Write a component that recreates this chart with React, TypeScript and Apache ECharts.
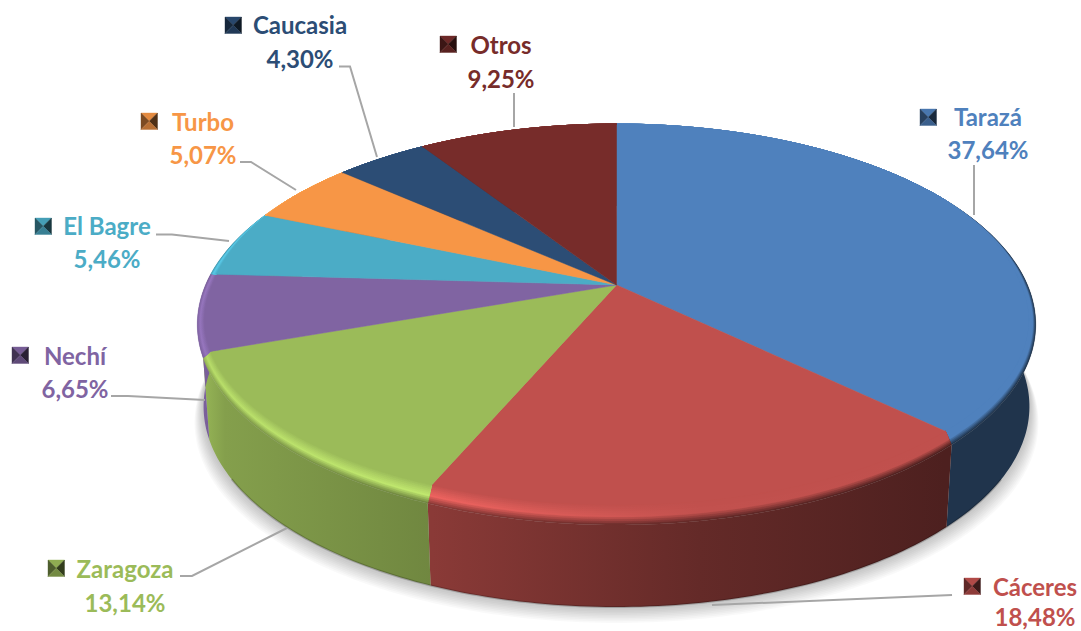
import React, { useEffect, useRef } from "react";
import * as echarts from "echarts";

// ---- data (clockwise from 12 o'clock) ----
const names = ["Tarazá", "Cáceres", "Zaragoza", "Nechí", "El Bagre", "Turbo", "Caucasia", "Otros"];
const values = [37.64, 18.48, 13.14, 6.65, 5.46, 5.07, 4.3, 9.25];
const colors = ["#4f81bd", "#c0504d", "#9bbb59", "#8064a2", "#4bacc6", "#f79646", "#2c4d75", "#772c2a"];

// ---- label layout, in page pixels ----
const labelCenterX = [988, 1035, 125, 75, 107, 203, 300, 501];
const nameBaseline = [125, 595, 577, 364, 234, 130, 33, 53];
const valueBaseline = [158, 624.5, 611, 397, 267, 163, 67, 87];
const keyCorner: number[][] = [[920, 109], [964, 578], [48, 560], [12, 347], [35, 218], [141, 113], [225, 17], [440, 36]];
const leaders: number[][][] = [
  [[974, 165], [974, 215]],
  [[952, 595], [712, 605]],
  [[180, 576], [192, 576], [287, 528]],
  [[111, 396], [128, 396], [205, 400]],
  [[156, 234.5], [172, 234.5], [229, 241]],
  [[240, 162], [251, 162], [296, 190]],
  [[339, 66.5], [350, 66.5], [377, 157]],
  [[514, 93], [514, 127]],
];

// ---- perspective disc geometry ----
const CX = 616.5, CY = 285, B = 411, A = 192.7, K = -0.197;
const WALL_H = 82, WALL_SCALE = 0.985, BEVEL_D = 15, BEVEL_R = 0.016, BANDS = 10;

const total = values.reduce((a, b) => a + b, 0);
const angleAt = (i: number) => (values.slice(0, i).reduce((a, b) => a + b, 0) / total) * Math.PI * 2;

const project = (r: number, th: number) => {
  const u = r * Math.sin(th), v = -r * Math.cos(th), w = 1 + K * v;
  return [CX + (B * u) / w, CY + (A * v) / w];
};
const arc = (a0: number, a1: number, f: (th: number) => number[]) => {
  const n = Math.max(2, Math.ceil((a1 - a0) / (Math.PI / 180)));
  const out: number[][] = [];
  for (let i = 0; i <= n; i++) out.push(f(a0 + ((a1 - a0) * i) / n));
  return out;
};

const rgb = (h: string) => [1, 3, 5].map((i) => parseInt(h.slice(i, i + 2), 16));
const css = (c: number[]) => `rgb(${c.map((x) => Math.max(0, Math.min(255, Math.round(x)))).join(",")})`;
const mul = (c: number[], f: number) => c.map((x) => x * f);
const lerp = (a: number[], b: number[], t: number) => a.map((x, i) => x + (b[i] - x) * t);

const stopX = [197, 225, 432, 700, 945, 1036];
const wallShade = [1.0, 0.85, 0.72, 0.52, 0.4, 0.4];
const hlStrength = [0.7, 0.8, 1, 0.05, 0, 0];
const gx = (x: number) => (x - stopX[0]) / (stopX[stopX.length - 1] - stopX[0]);
const grad = (stops: string[]) =>
  new echarts.graphic.LinearGradient(
    stopX[0], 0, stopX[stopX.length - 1], 0,
    stops.map((color, i) => ({ offset: gx(stopX[i]), color })),
    true
  );

const wallFill = (base: number[]) => grad(wallShade.map((s) => css(mul(base, s))));

const bevelFill = (base: number[], t: number) =>
  grad(
    stopX.map((_, i) => {
      const wall = mul(base, wallShade[i]);
      const hl = lerp(base, mul(base, 1.24), hlStrength[i]);
      return css(t < 0.4 ? lerp(wall, hl, t / 0.4) : lerp(hl, base, (t - 0.4) / 0.6));
    })
  );

const bevelPoint = (t: number) => (th: number) => {
  const v = -Math.cos(th);
  const s = Math.max(0, Math.min(1, (v + 0.5) / 0.5));
  const p = project(1 - BEVEL_R * t * s, th);
  return [p[0], p[1] - BEVEL_D * t * Math.max(0, v)];
};
const bottomPoint = (th: number) => {
  const p = project(1, th);
  return [CX + (p[0] - CX) * WALL_SCALE, p[1] + WALL_H];
};

const SHADOW_LAYERS = 10;
const renderShadow = () => ({
  type: "group",
  children: Array.from({ length: SHADOW_LAYERS }, (_, k) => {
    const n = SHADOW_LAYERS - k;
    const sc = 1 + 0.0022 * n;
    return {
      type: "polygon",
      shape: {
        points: arc(0, Math.PI * 2, bottomPoint).map(([x, y]) => [CX + (x - CX) * sc, y + 1.6 * n]),
      },
      style: { fill: "rgba(0,0,0,0.024)" },
    };
  }),
});

const renderWall = (params: any) => {
  const i = params.dataIndex;
  const a0 = angleAt(i), a1 = angleAt(i + 1);
  const base = rgb(colors[i]);
  const top = arc(a0, a1, (th) => project(1, th));
  const bottom = arc(a0, a1, bottomPoint);
  return {
    type: "group",
    children: [
      { type: "polygon", shape: { points: [...top, ...bottom.slice().reverse()] }, style: { fill: wallFill(base) } },
      {
        type: "polyline",
        shape: { points: bottom.filter((p) => p[1] > CY + WALL_H + 110) },
        style: { fill: "none", stroke: "rgba(0,0,0,0.2)", lineWidth: 2 },
      },
    ],
  };
};

const renderTop = (params: any) => {
  const i = params.dataIndex;
  const a0 = angleAt(i), a1 = angleAt(i + 1);
  const base = rgb(colors[i]);
  const inner = arc(a0, a1, bevelPoint(1));
  const children: any[] = [];
  for (let j = 0; j < BANDS; j++) {
    const t = j / BANDS;
    const fill = bevelFill(base, t);
    children.push({
      type: "polygon",
      shape: { points: [...arc(a0, a1, bevelPoint(t)), ...inner.slice().reverse()] },
      style: { fill, stroke: fill, lineWidth: 0.4 },
    });
  }
  children.push({
    type: "polygon",
    shape: { points: [[CX, CY], ...inner] },
    style: { fill: colors[i], stroke: colors[i], lineWidth: 0.5 },
  });
  return { type: "group", children };
};

const FONT = 'bold 24px Lato, "Noto Sans", sans-serif';
const KEY = 16.5;

const renderLabel = (params: any, api: any) => {
  const i = params.dataIndex;
  const value = api.value(0) as number;
  const base = rgb(colors[i]);
  const [kx, ky] = keyCorner[i];
  const mx = kx + KEY / 2, my = ky + KEY / 2;
  const tri = (pts: number[][], f: number) => ({
    type: "polygon",
    shape: { points: pts },
    style: { fill: css(mul(base, f)), stroke: css(mul(base, f)), lineWidth: 0.4 },
  });
  const tl = [kx, ky], tr = [kx + KEY, ky], br = [kx + KEY, ky + KEY], bl = [kx, ky + KEY], m = [mx, my];
  const text = (s: string, baseline: number) => ({
    type: "text",
    style: {
      text: s,
      x: labelCenterX[i],
      y: baseline - 8.2,
      fill: colors[i],
      font: FONT,
      align: "center",
      verticalAlign: "middle",
    },
  });
  return {
    type: "group",
    children: [
      { type: "polyline", shape: { points: leaders[i] }, style: { fill: "none", stroke: "#a6a6a6", lineWidth: 2 } },
      tri([tl, tr, m], 0.92),
      tri([tl, bl, m], 0.5),
      tri([tr, br, m], 0.32),
      tri([bl, br, m], 0.74),
      text(names[i], nameBaseline[i]),
      text(value.toFixed(2).replace(".", ",") + "%", valueBaseline[i]),
    ],
  };
};

export default function App() {
  const ref = useRef<HTMLDivElement>(null);
  useEffect(() => {
    const chart = echarts.init(ref.current!, undefined, { renderer: "svg" });
    const data = values.map((v) => [v]);
    const common = { type: "custom", coordinateSystem: "none", silent: true, clip: false };
    chart.setOption({
      animation: false,
      backgroundColor: "#ffffff",
      series: [
        { ...common, name: "shadow", data: [[total]], renderItem: renderShadow },
        { ...common, name: "walls", data, renderItem: renderWall },
        { ...common, name: "tops", data, renderItem: renderTop },
        { ...common, name: "labels", data, renderItem: renderLabel },
      ],
    });
    return () => chart.dispose();
  }, []);
  return <div ref={ref} style={{ position: "fixed", left: 0, top: 0, width: 1081, height: 631 }} />;
}
